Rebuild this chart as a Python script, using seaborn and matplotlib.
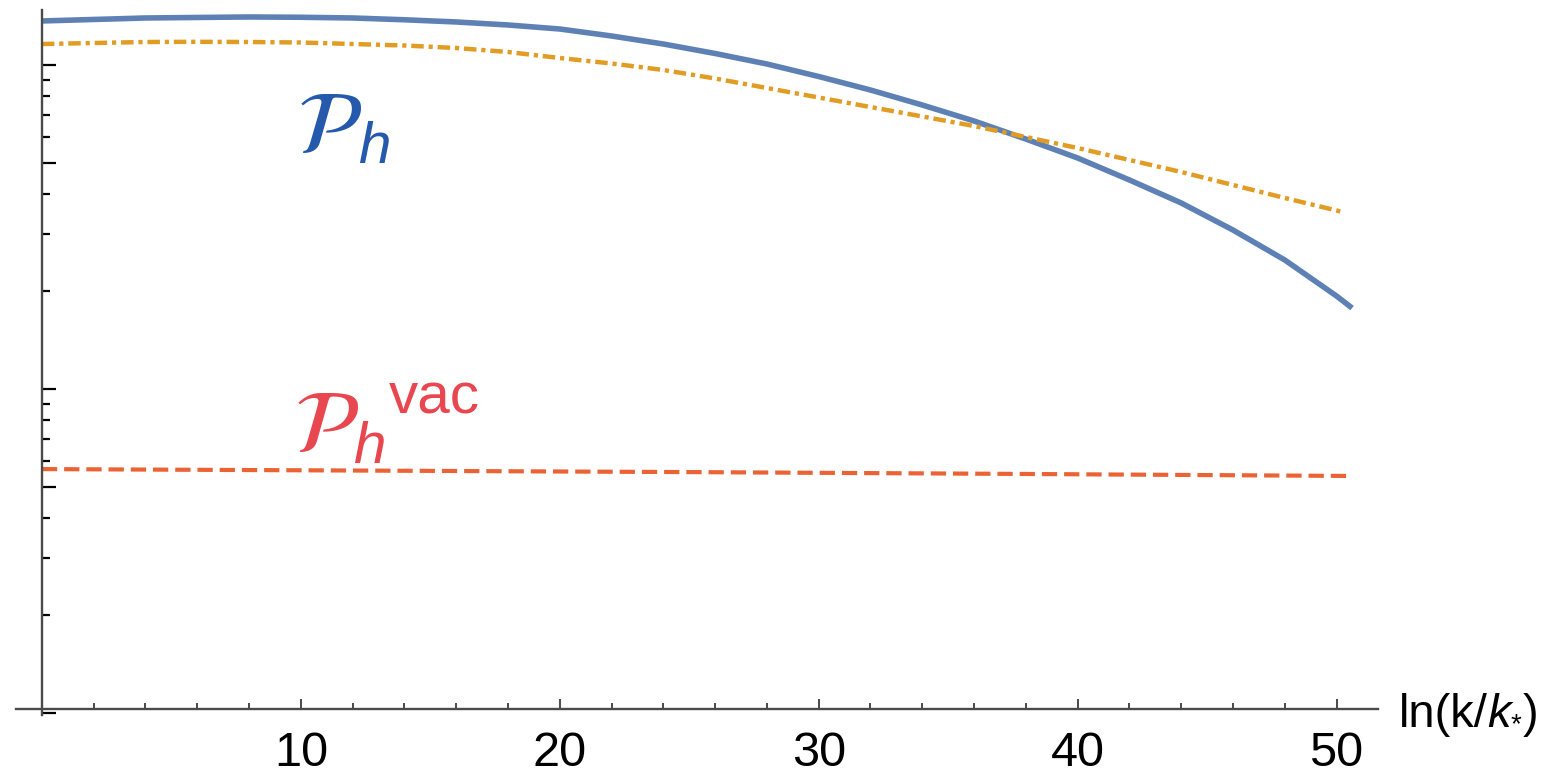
import numpy as np
import pandas as pd
import matplotlib
matplotlib.use("Agg")
import matplotlib.pyplot as plt
import seaborn as sns

# ---- data (y in arbitrary normalised units, log scale) ----
x_blue = [0, 2, 4, 6, 8, 10, 12, 14, 16, 18, 20, 22, 24, 26, 28, 30, 32, 34,
          36, 38, 40, 42, 44, 46, 48, 50, 50.6]
y_blue = [1.3674, 1.3820, 1.3968, 1.4018, 1.4068, 1.4038, 1.3968, 1.3791,
          1.3577, 1.3290, 1.2915, 1.2289, 1.1609, 1.0852, 1.0071, 0.9215,
          0.8372, 0.7524, 0.6718, 0.5908, 0.5164, 0.4417, 0.3751, 0.3095,
          0.2501, 0.1936, 0.1778]

x_orange = [0, 2, 4, 6, 8, 10, 12, 14, 16, 18, 20, 22, 24, 26, 28, 30, 32, 34,
            36, 38, 40, 42, 44, 46, 48, 50, 50.2]
y_orange = [1.1609, 1.1692, 1.1776, 1.1792, 1.1776, 1.1734, 1.1609, 1.1486,
            1.1284, 1.0967, 1.0510, 1.0107, 0.9651, 0.9085, 0.8492, 0.7937,
            0.7418, 0.6937, 0.6481, 0.5995, 0.5543, 0.5091, 0.4675, 0.4262,
            0.3887, 0.3556, 0.3518]

x_red = [0, 12.5, 25, 37.5, 50.6]
y_red = [0.0566, 0.0560, 0.0554, 0.0547, 0.0539]

x_major_ticks = [10, 20, 30, 40, 50]
x_tick_labels = ["10", "20", "30", "40", "50"]
x_minor_ticks = [2, 4, 6, 8, 12, 14, 16, 18, 22, 24, 26, 28, 32, 34, 36, 38,
                 42, 44, 46, 48]
y_major_ticks = [0.01, 0.05, 0.1, 0.5, 1.0]
y_minor_ticks = [0.02, 0.03, 0.04, 0.06, 0.07, 0.08, 0.09,
                 0.2, 0.3, 0.4, 0.6, 0.7, 0.8, 0.9]

BLUE = "#5E81B5"
ORANGE = "#E19C24"
RED = "#EB6235"
AXC = "#4a4a4a"

sns.set_theme(style="white")
plt.rcParams["font.family"] = ["Liberation Sans", "DejaVu Sans"]
plt.rcParams["lines.scale_dashes"] = False

W, H = 1550, 777
fig = plt.figure(figsize=(W / 100, H / 100), dpi=100)
fig.patch.set_facecolor("white")

# axes box in pixels: left 16, right 1378, top 10, bottom 715
L, R, T, B = 16, 1378, 10, 715
ax = fig.add_axes([L / W, 1 - B / H, (R - L) / W, (B - T) / H])
ax.set_facecolor("white")
ax.set_yscale("log")

df_b = pd.DataFrame({"x": x_blue, "y": y_blue})
df_o = pd.DataFrame({"x": x_orange, "y": y_orange})
df_r = pd.DataFrame({"x": x_red, "y": y_red})

sns.lineplot(data=df_b, x="x", y="y", ax=ax, color=BLUE, lw=4.0,
             solid_capstyle="butt", solid_joinstyle="round")
sns.lineplot(data=df_o, x="x", y="y", ax=ax, color=ORANGE, lw=3.2,
             linestyle=(0, (9, 3.5, 3, 3.5)))
sns.lineplot(data=df_r, x="x", y="y", ax=ax, color=RED, lw=3.0,
             linestyle=(0, (11, 5)))

ax.set_xlim(-1.0, 51.6)
ax.set_ylim(10 ** (-(B - 65) / 324), 10 ** ((65 - T) / 324))

ax.spines["top"].set_visible(False)
ax.spines["right"].set_visible(False)
ax.spines["left"].set_position(("data", 0))
ax.spines["bottom"].set_position(("data", 10 ** (-(709 - 65) / 324)))
for s in ("left", "bottom"):
    ax.spines[s].set_color(AXC)
    ax.spines[s].set_linewidth(1.7)

ax.set_xticks(x_major_ticks)
ax.set_xticklabels(x_tick_labels)
ax.set_xticks(x_minor_ticks, minor=True)
ax.set_yticks(y_major_ticks)
ax.set_yticks(y_minor_ticks, minor=True)
ax.set_yticklabels([])
ax.set_yticklabels([], minor=True)

ax.tick_params(axis="x", which="major", direction="in", length=7.5, width=1.4,
               color=AXC, labelsize=35, pad=16, labelcolor="black",
               bottom=True, top=False)
ax.tick_params(axis="x", which="minor", direction="in", length=4.5, width=1.4,
               color=AXC, bottom=True, top=False)
ax.tick_params(axis="y", which="major", direction="in", length=10, width=1.6,
               color="black", left=True, right=False)
ax.tick_params(axis="y", which="minor", direction="in", length=5.5, width=1.6,
               color="black", left=True, right=False)
ax.set_xlabel("")
ax.set_ylabel("")
ax.grid(False)


def px(x, y):
    return x / W, 1 - y / H


renderer = fig.canvas.get_renderer()


def put(xpix, ypix, s, **kw):
    t = fig.text(*px(xpix, ypix), s, ha="left", va="baseline", **kw)
    bb = t.get_window_extent(renderer=renderer)
    return bb.x1  # right edge in display pixels


# x-axis label  ln(k/k_*)
xl = 1399
base = 727
xr = put(xl, base, "ln(k/", fontsize=34, color="black")
xr = put(xr - 1, base, "k", fontsize=34, color="black", style="italic")
xr = put(xr + 0, base + 5, "*", fontsize=20, color="black")
put(xr + 1, base, ")", fontsize=34, color="black")

# curve labels
BLUE_T = "#2459ab"
RED_T = "#e8474f"
fig.text(*px(297, 153), r"$\mathcal{P}$", fontsize=64, color=BLUE_T,
         ha="left", va="baseline", math_fontfamily="stix")
fig.text(*px(358, 163), "h", fontsize=42, color=BLUE_T, style="italic",
         ha="left", va="baseline")

fig.text(*px(294, 452), r"$\mathcal{P}$", fontsize=64, color=RED_T,
         ha="left", va="baseline", math_fontfamily="stix")
fig.text(*px(353, 463), "h", fontsize=42, color=RED_T, style="italic",
         ha="left", va="baseline")
fig.text(*px(389, 413), "vac", fontsize=42, color=RED_T,
         ha="left", va="baseline")

fig.savefig("out.png", dpi=100, facecolor="white")
